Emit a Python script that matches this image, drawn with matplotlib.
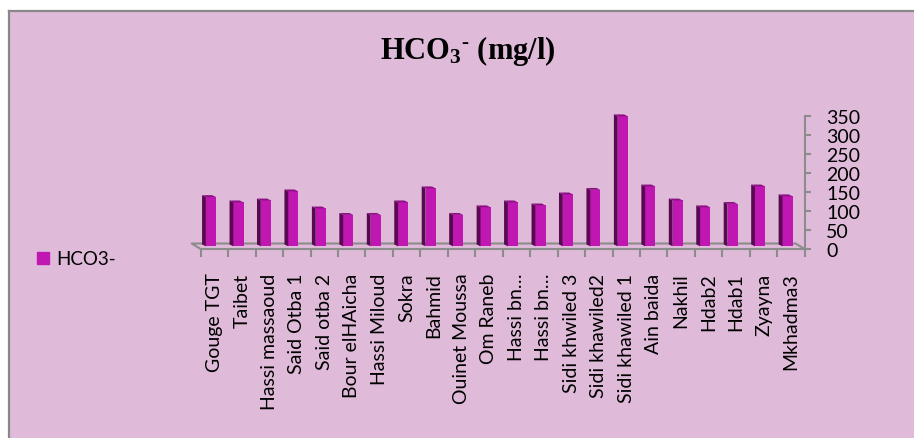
import matplotlib.pyplot as plt
import numpy as np
from matplotlib.lines import Line2D
from matplotlib.patches import Rectangle

# Data
sites = ['Gouge TGT', 'Taibet', 'Hassi massaoud', 'Said Otba 1', 'Said otba 2',
         'Bour elHAicha', 'Hassi Miloud', 'Sokra', 'Bahmid', 'Ouinet Moussa',
         'Om Raneb', 'Hassi bn…', 'Hassi bn…', 'Sidi khwiled 3', 'Sidi khawiled2',
         'Sidi khawiled 1', 'Ain baida', 'Nakhil', 'Hdab2', 'Hdab1', 'Zyayna',
         'Mkhadma3']
hco3 = [137, 123, 128, 152, 107, 90, 90, 123, 160, 90, 110, 123, 115, 144,
        156, 350, 165, 128, 110, 119, 165, 139]
yticks = [0, 50, 100, 150, 200, 250, 300, 350]

# Colours
bg = '#DFBBD9'
front_c = '#C016B2'
side_c = '#5A0852'
top_c = '#8C1284'
grey = '#8C8C8C'

plt.rcParams['font.family'] = ['Lato', 'DejaVu Sans']
plt.rcParams['mathtext.fontset'] = 'custom'
plt.rcParams['mathtext.rm'] = 'Liberation Serif:bold'
plt.rcParams['mathtext.bf'] = 'Liberation Serif:bold'
plt.rcParams['mathtext.it'] = 'Liberation Serif:bold:italic'

W, H = 914, 439
fig = plt.figure(figsize=(W / 100, H / 100), dpi=100)
fig.patch.set_facecolor('white')

# chart area with grey left/top border
fig.patches.append(Rectangle((9 / W, 0), 1, (H - 12) / H, transform=fig.transFigure,
                             facecolor=bg, edgecolor='none', zorder=-1))
fig.add_artist(Line2D([9 / W, 9 / W], [0, (H - 12) / H], transform=fig.transFigure,
                      color='#888888', lw=1.6, zorder=-0.5))
fig.add_artist(Line2D([9 / W, 1], [(H - 12) / H, (H - 12) / H], transform=fig.transFigure,
                      color='#888888', lw=1.6, zorder=-0.5))

ax = fig.add_axes([200.7 / W, (H - 250) / H, 604 / W, 132.7 / H])
ax.set_facecolor('none')
n = len(sites)
x = np.arange(n)

# pseudo-3D columns: front face, dark left side, top cap
fl, fr = -0.31, 0.06
dx, dy = 0.14, 5.0
base = 7.0
for xi, v in zip(x, hco3):
    ax.fill([xi + fl, xi + fr, xi + fr, xi + fl], [base, base, v, v],
            color=front_c, lw=0, clip_on=False, zorder=3)
    ax.fill([xi + fl, xi + fl, xi + fl - dx, xi + fl - dx],
            [base, v, v + dy, base + dy], color=side_c, lw=0, clip_on=False, zorder=3)
    ax.fill([xi + fl, xi + fr, xi + fr - dx, xi + fl - dx],
            [v, v, v + dy, v + dy], color=top_c, lw=0, clip_on=False, zorder=3)

# floor outline
fdx, fdy = 0.33, 14.5
ax.plot([-0.5, -0.5 - fdx, n - 0.5 - fdx, n - 0.5], [0, fdy, fdy, 0],
        color=grey, lw=1.5, clip_on=False, zorder=2)

ax.set_xlim(-0.5, n - 0.5)
ax.set_ylim(0, 350)

for s in ['top', 'left']:
    ax.spines[s].set_visible(False)
for s in ['bottom', 'right']:
    ax.spines[s].set_color(grey)
    ax.spines[s].set_linewidth(1.5)

ax.yaxis.tick_right()
ax.set_yticks(yticks)
ax.tick_params(axis='y', colors=grey, length=4.5, width=1.5, pad=11,
               labelsize=14, labelcolor='black')

ax.set_xticks(x)
ax.set_xticklabels(sites, rotation=90, fontsize=14)
ax.set_xticks(np.arange(n + 1) - 0.5, minor=True)
ax.tick_params(axis='x', which='major', length=0, pad=17)
ax.tick_params(axis='x', which='minor', length=5.5, width=1.5, colors=grey)

fig.text(468 / W, 1 - 51 / H, r'HCO$_3{}^{\text{-}}$ (mg/l)', ha='center',
         va='center', fontsize=22, family='Liberation Serif', weight='bold')

handle = Line2D([], [], marker='s', linestyle='none', color=front_c, markersize=8)
fig.legend([handle], ['HCO3-'], loc='center left', bbox_to_anchor=(37 / W, 1 - 260 / H),
           frameon=False, fontsize=13.5, handlelength=0.6, handletextpad=0.4,
           borderpad=0, borderaxespad=0)

fig.savefig('out.png', dpi=100)
